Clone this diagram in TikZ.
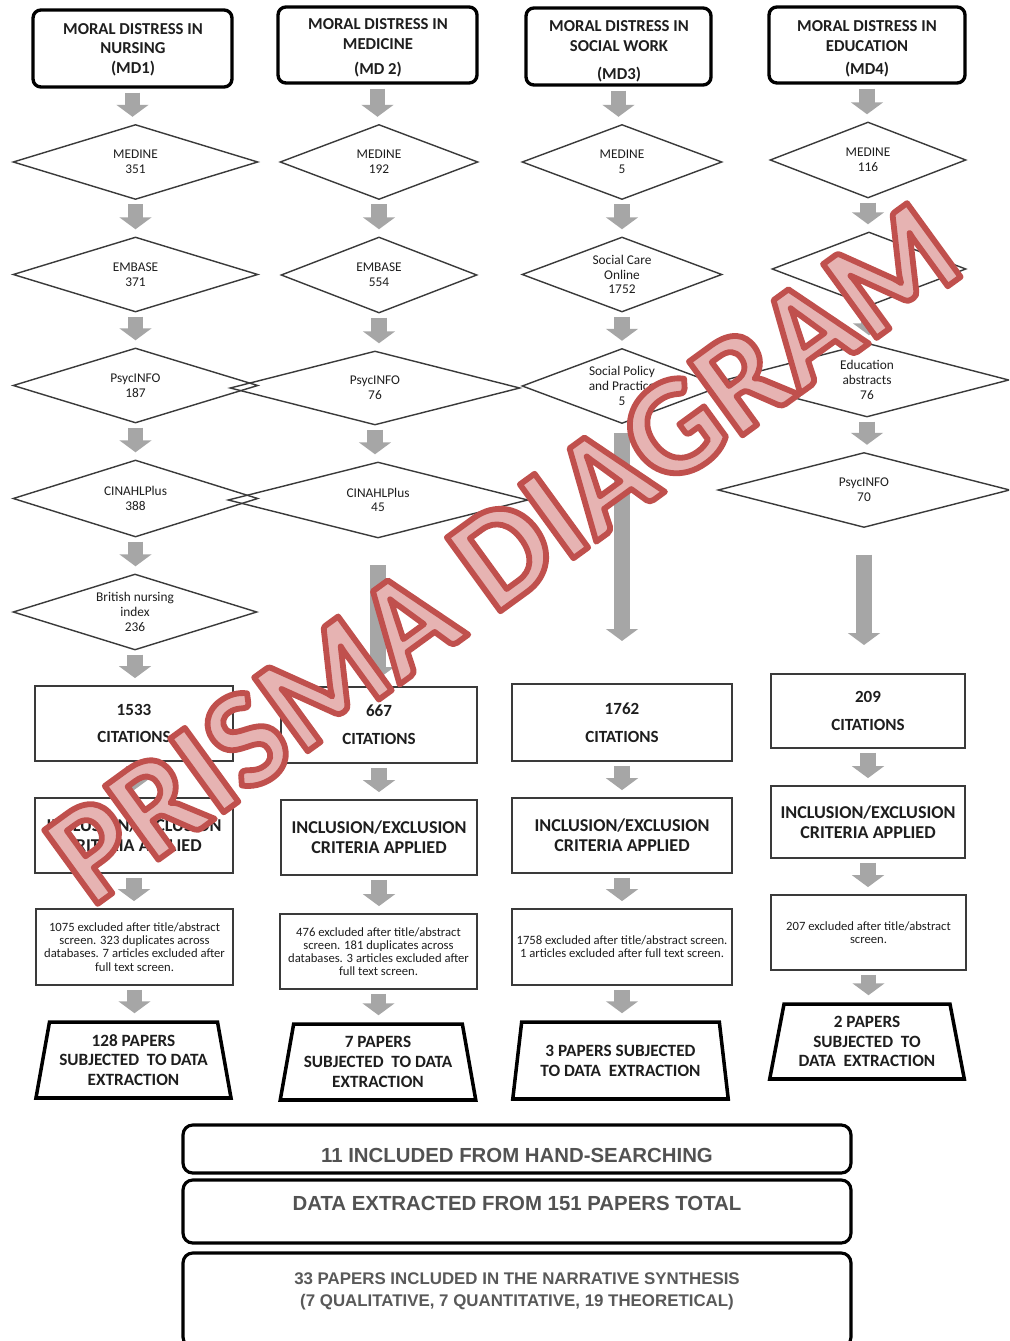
\documentclass[tikz,border=0pt]{standalone}
\usepackage{fontspec}
\setmainfont{Carlito}
\newfontfamily\arialf{Liberation Sans}
\usetikzlibrary{shapes.geometric,arrows.meta,calc}
\definecolor{arrgray}{HTML}{A6A6A6}
\definecolor{wmred}{HTML}{C0504D}
\definecolor{wmpink}{HTML}{E6B3B2}
\definecolor{boxline}{HTML}{3A3A3A}
\definecolor{txt}{HTML}{1E1E1E}
\newcommand{\wmoutline}[1]{\special{pdf:literal direct 2 Tr 3.3 w 1 j 0.753 0.314 0.302 RG}#1\special{pdf:literal direct 0 Tr 1 w 0 j}}
\begin{document}
\begin{tikzpicture}[x=0.02cm,y=-0.02cm,
  topbox/.style={draw=black, line width=1.9pt, rounded corners=4.5pt, inner sep=0pt},
  toptext/.style={font=\bfseries\fontsize{9.5}{11}\selectfont, align=center, text=txt, inner sep=0pt},
  db/.style={diamond, draw=boxline, line width=0.8pt, aspect=2.7, inner sep=0pt, align=center, font=\fontsize{7.6}{8.4}\selectfont, text=txt},
  cit/.style={draw=boxline, line width=1pt, inner sep=0pt, align=center, font=\bfseries\fontsize{9.7}{15.8}\selectfont, text=txt},
  incl/.style={cit, font=\bfseries\fontsize{10.3}{11.3}\selectfont},
  excl/.style={draw=boxline, line width=1pt, inner sep=0pt, align=center, font=\fontsize{7.2}{7.5}\selectfont, text=txt},
  trap/.style={trapezium, trapezium stretches=true, trapezium left angle=77, trapezium right angle=77, draw=black, line width=2pt, inner sep=0pt, align=center, font=\bfseries\fontsize{9.8}{11.3}\selectfont, text=txt},
  bigbox/.style={draw=black, line width=1.8pt, rounded corners=5.5pt, inner sep=0pt},
  bigtext/.style={font=\arialf\bfseries\fontsize{11.6}{14}\selectfont, text=black!68, inner sep=0pt, align=center},
  smalltext/.style={font=\arialf\bfseries\fontsize{9.6}{12.5}\selectfont, text=black!65, inner sep=0pt, align=center},
  blockarr/.style={draw=arrgray, line width=9pt, -{Triangle[width=18pt,length=6.8pt]}, shorten <=2.3pt, shorten >=4pt},
  wmark/.style={font=\bfseries\fontsize{80}{82}\selectfont, text=wmpink, inner sep=0pt, rotate=36},
]
\clip (0,0) rectangle (1009,1341);
\fill[white] (0,0) rectangle (1009,1341);

% top boxes
\node[topbox, minimum width=3.98cm, minimum height=1.54cm] (T1) at (132.5,48.5) {};
\node[topbox, minimum width=3.98cm, minimum height=1.52cm] (T2) at (377.5,45) {};
\node[topbox, minimum width=3.70cm, minimum height=1.54cm] (T3) at (618.5,46.5) {};
\node[topbox, minimum width=3.92cm, minimum height=1.52cm] (T4) at (867,45) {};
\node[toptext] (T1t) at (133,49.5) {MORAL DISTRESS IN\\NURSING\\(MD1)};
\node[toptext] (T2t) at (378,48) {MORAL DISTRESS IN\\MEDICINE\\[3.4pt](MD 2)};
\node[toptext] (T3t) at (619,51.5) {MORAL DISTRESS IN\\SOCIAL WORK\\[5pt](MD3)};
\node[toptext] (T4t) at (867,49) {MORAL DISTRESS IN\\EDUCATION\\[2.3pt](MD4)};

% diamonds column 1
\node[db, minimum width=4.9cm, minimum height=1.5cm] (D1a) at (135.5,162) {MEDINE\\351};
\node[db, minimum width=4.9cm, minimum height=1.5cm] (D1b) at (135.5,274.5) {EMBASE\\371};
\node[db, minimum width=4.9cm, minimum height=1.5cm] (D1c) at (135.5,385.5) {PsycINFO\\187};
\node[db, minimum width=4.9cm, minimum height=1.54cm] (D1d) at (135.5,498.5) {CINAHLPlus\\388};
\node[db, minimum width=4.88cm, minimum height=1.52cm] (D1e) at (135,612) {British nursing\\index\\236};
% column 2
\node[db, minimum width=3.96cm, minimum height=1.5cm] (D2a) at (379,162) {MEDINE\\192};
\node[db, minimum width=3.92cm, minimum height=1.52cm] (D2b) at (379,275) {EMBASE\\554};
\node[db, minimum width=5.8cm, minimum height=1.48cm] (D2c) at (375,388) {PsycINFO\\76};
\node[db, minimum width=6.0cm, minimum height=1.52cm] (D2d) at (378,500) {CINAHLPlus\\45};
% column 3
\node[db, minimum width=4.0cm, minimum height=1.5cm] (D3a) at (622,162) {MEDINE\\5};
\node[db, minimum width=4.0cm, minimum height=1.5cm] (D3b) at (622,274.5) {Social Care\\Online\\1752};
\node[db, minimum width=4.0cm, minimum height=1.5cm] (D3c) at (622,386) {Social Policy\\and Practice\\5};
% column 4
\node[db, minimum width=3.92cm, minimum height=1.52cm] (D4a) at (868,160) {MEDINE\\116};
\node[db, minimum width=3.88cm, minimum height=1.48cm] (D4b) at (869,269) {};
\node[db, minimum width=5.68cm, minimum height=1.48cm] (D4c) at (867,380) {Education\\abstracts\\76};
\node[db, minimum width=5.84cm, minimum height=1.5cm] (D4d) at (864,490) {PsycINFO\\70};

% citations
\node[cit, minimum width=3.96cm, minimum height=1.50cm] (C1) at (134,723.5) {1533\\CITATIONS};
\node[cit, minimum width=3.92cm, minimum height=1.52cm] (C2) at (379,725) {667\\CITATIONS};
\node[cit, minimum width=4.40cm, minimum height=1.54cm] (C3) at (622,722.5) {1762\\CITATIONS};
\node[cit, minimum width=3.88cm, minimum height=1.48cm] (C4) at (868,711) {209\\CITATIONS};
% inclusion
\node[incl, minimum width=3.96cm, minimum height=1.50cm] (I1) at (134,835.5) {INCLUSION/EXCLUSION\\CRITERIA APPLIED};
\node[incl, minimum width=3.92cm, minimum height=1.50cm] (I2) at (379,837.5) {INCLUSION/EXCLUSION\\CRITERIA APPLIED};
\node[incl, minimum width=4.40cm, minimum height=1.50cm] (I3) at (622,835.5) {INCLUSION/EXCLUSION\\CRITERIA APPLIED};
\node[incl, minimum width=3.88cm, minimum height=1.44cm] (I4) at (868,822) {INCLUSION/EXCLUSION\\CRITERIA APPLIED};
% excluded
\node[excl, minimum width=3.94cm, minimum height=1.52cm] (E1) at (134.5,947) {1075 excluded after title/abstract\\screen. 323 duplicates across\\databases. 7 articles excluded after\\full text screen.};
\node[excl, minimum width=3.94cm, minimum height=1.50cm] (E2) at (378.5,951.5) {476 excluded after title/abstract\\screen. 181 duplicates across\\databases. 3 articles excluded after\\full text screen.};
\node[excl, minimum width=4.40cm, minimum height=1.52cm] (E3) at (622,947) {1758 excluded after title/abstract screen.\\1 articles excluded after full text screen.};
\node[excl, minimum width=3.90cm, minimum height=1.50cm] (E4) at (868.5,932.5) {207 excluded after title/abstract\\screen.};
% trapezoids
\node[trap, minimum width=3.94cm, minimum height=1.52cm] (P1) at (133.5,1060) {128 PAPERS\\SUBJECTED\ \ TO DATA\\EXTRACTION};
\node[trap, minimum width=3.92cm, minimum height=1.52cm] (P2) at (378,1062) {7 PAPERS\\SUBJECTED\ \ TO DATA\\EXTRACTION};
\node[trap, minimum width=4.34cm, minimum height=1.54cm] (P3) at (620.5,1060.5) {3 PAPERS SUBJECTED\\TO DATA\ \ EXTRACTION};
\node[trap, minimum width=3.92cm, minimum height=1.50cm] (P4) at (867,1041.5) {2 PAPERS\\SUBJECTED\ \ TO\\DATA\ \ EXTRACTION};

% bottom boxes
\node[bigbox, minimum width=13.36cm, minimum height=0.96cm] (BA) at (517,1149) {};
\node[bigbox, minimum width=13.36cm, minimum height=1.26cm] (BB) at (517,1211.5) {};
\node[bigbox, minimum width=13.36cm, minimum height=1.88cm] (BC) at (517,1300) {};
\node[bigtext] (BAt) at (517,1155) {11 INCLUDED FROM HAND-SEARCHING};
\node[bigtext] (BBt) at (517,1203) {DATA EXTRACTED FROM 151 PAPERS TOTAL};
\node[smalltext] (BCt) at (517,1291) {33 PAPERS INCLUDED IN THE NARRATIVE SYNTHESIS\\(7 QUALITATIVE, 7 QUANTITATIVE, 19 THEORETICAL)};

% arrows
\foreach \a/\b in {T1/D1a,D1a/D1b,D1b/D1c,D1c/D1d,D1d/D1e,D1e/C1,C1/I1,I1/E1,E1/P1,
                   T2/D2a,D2a/D2b,D2b/D2c,D2c/D2d,C2/I2,I2/E2,E2/P2,
                   T3/D3a,D3a/D3b,D3b/D3c,C3/I3,I3/E3,E3/P3,
                   T4/D4a,D4a/D4b,D4b/D4c,D4c/D4d,C4/I4,I4/E4,E4/P4}
  \draw[blockarr] (\a.south) -- (\a.south |- \b.north);
\draw[blockarr, shorten <=15pt, shorten >=4pt] (D2d.south) -- (D2d.south |- C2.north);
\draw[blockarr, shorten <=5pt, shorten >=24pt] (D3c.south) -- (D3c.south |- C3.north);
\draw[blockarr, shorten <=15pt, shorten >=16pt] (D4d.south) -- (D4d.south |- C4.north);

% watermark
\node[wmark] (wm) at (503,553) {\wmoutline{PRISMA DIAGRAM}};
\end{tikzpicture}
\end{document}
